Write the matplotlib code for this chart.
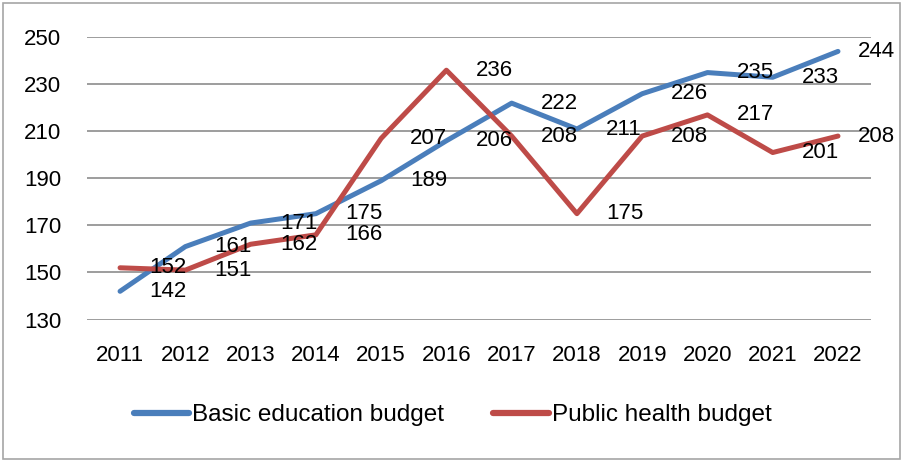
import matplotlib
matplotlib.use('Agg')
import matplotlib.pyplot as plt
from matplotlib.patches import Rectangle

plt.rcParams['font.family'] = ['Liberation Sans', 'DejaVu Sans']

years = [2011, 2012, 2013, 2014, 2015, 2016, 2017, 2018, 2019, 2020, 2021, 2022]
education = [142, 161, 171, 175, 189, 206, 222, 211, 226, 235, 233, 244]
health = [152, 151, 162, 166, 207, 236, 208, 175, 208, 217, 201, 208]
y_ticks = [130, 150, 170, 190, 210, 230, 250]

BLUE = '#4A7EBB'
RED = '#BE4B48'
FS = 16

fig = plt.figure(figsize=(9.05, 4.62), dpi=100)
ax = fig.add_axes([0.0966, 0.3084, 0.962 - 0.0966, 0.9193 - 0.3084])

x = list(range(len(years)))
ax.plot(x, education, color=BLUE, lw=3.6, solid_capstyle='round',
        solid_joinstyle='round', label='Basic education budget', zorder=3)
ax.plot(x, health, color=RED, lw=3.6, solid_capstyle='round',
        solid_joinstyle='round', label='Public health budget', zorder=3)

# data labels to the right of each point (last one pulled in a bit)
for series in (education, health):
    for i, v in enumerate(series):
        dx = 14 if i == len(series) - 1 else 21
        ax.annotate(str(v), (i, v), xytext=(dx, 0), textcoords='offset points',
                    ha='left', va='center', fontsize=FS, color='black',
                    zorder=5, annotation_clip=False)

ax.set_xlim(-0.5, len(years) - 0.5)
ax.set_ylim(130, 250)
ax.set_yticks(y_ticks)
ax.set_xticks(x)
ax.set_xticklabels([str(y) for y in years])
ax.tick_params(axis='both', length=0, labelsize=FS)
ax.tick_params(axis='y', pad=19)
ax.tick_params(axis='x', pad=18)
ax.grid(axis='y', color='#8C8C8C', lw=1.2, zorder=1)
for s in ax.spines.values():
    s.set_visible(False)

leg = fig.legend(loc='center', bbox_to_anchor=(0.5, 1 - 415 / 462), ncol=2,
                 frameon=False, fontsize=17.5, handlelength=2.3, handletextpad=0.12,
                 columnspacing=2.0)
for line in leg.get_lines():
    line.set_linewidth(4.5)

fig.patches.append(Rectangle((0.003, 0.006), 0.992, 0.988, transform=fig.transFigure,
                             fill=False, edgecolor='#A6A6A6', lw=1.2))

fig.savefig('out.png', dpi=100)
